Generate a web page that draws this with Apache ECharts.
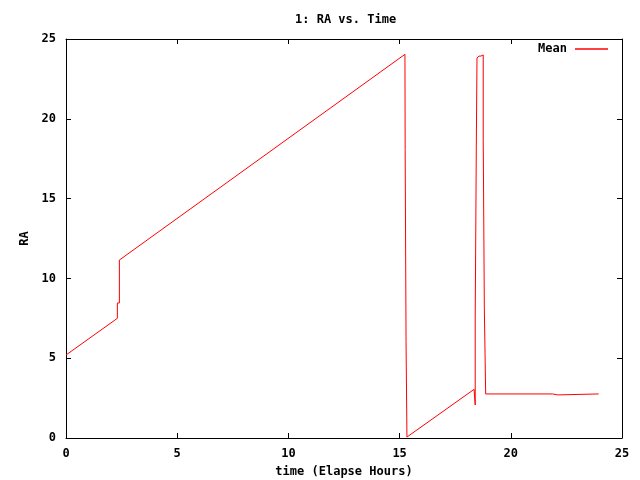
<!DOCTYPE html>
<html>
<head>
<meta charset="utf-8">
<script src="https://cdn.jsdelivr.net/npm/echarts@6/dist/echarts.min.js"></script>
<style>html,body{margin:0;padding:0;background:#fff}#c{width:640px;height:480px}</style>
</head>
<body>
<div id="c"></div>
<script>
var titleText = '1: RA vs. Time';
var xName = 'time (Elapse Hours)';
var yName = 'RA';
var seriesName = 'Mean';
var times = [0, 2.31, 2.31, 2.40, 2.40, 2.47, 15.24, 15.25, 15.29, 15.29, 15.33, 15.33,
  18.35, 18.37, 18.40, 18.40, 18.45, 18.45, 18.48, 18.48, 18.57, 18.66, 18.69, 18.76,
  18.76, 18.81, 18.81, 18.87, 18.87, 21.88, 21.88, 22.11, 22.11, 23.95];
var ra = [5.2, 7.5, 8.46, 8.46, 11.15, 11.2, 24.04, 18.09, 18.09, 6.03, 6.03, 0.06,
  3.05, 2.63, 2.07, 7.52, 7.52, 18.36, 18.36, 23.81, 23.93, 23.93, 24.0, 24.0,
  18.72, 18.72, 8.15, 8.15, 2.76, 2.76, 2.70, 2.70, 2.76, 2.76];
var xTicks = {min: 0, max: 25, interval: 5};
var yTicks = {min: 0, max: 25, interval: 5};

var font = 'DejaVu Sans Mono';
var pts = times.map(function (t, i) { return [t, ra[i]]; });
var axisCommon = {
  axisLine: {show: true, onZero: false, lineStyle: {color: '#000', width: 1}},
  axisTick: {show: true, inside: true, length: 5, lineStyle: {color: '#000'}},
  splitLine: {show: false}
};
var chart = echarts.init(document.getElementById('c'), null, {renderer: 'canvas'});
chart.setOption({
  animation: false,
  backgroundColor: '#fff',
  title: {
    text: titleText, left: 290, top: 9,
    textStyle: {fontFamily: font, fontWeight: 'bold', fontSize: 12, color: '#000'}
  },
  legend: {
    data: [seriesName], right: 27, top: 38, align: 'right',
    icon: 'rect', itemWidth: 33, itemHeight: 1.5,
    textStyle: {fontFamily: font, fontWeight: 'bold', fontSize: 12, color: '#000', padding: [0, 3, 0, 0]}
  },
  grid: {left: 66, right: 18, top: 39, bottom: 42, containLabel: false, outerBoundsMode: 'none'},
  xAxis: [
    Object.assign({
      type: 'value', position: 'bottom', min: xTicks.min, max: xTicks.max, interval: xTicks.interval,
      name: xName, nameLocation: 'middle', nameGap: 28,
      nameTextStyle: {fontFamily: font, fontWeight: 'bold', fontSize: 12, color: '#000'},
      axisLabel: {margin: 10, fontFamily: font, fontWeight: 'bold', fontSize: 12, color: '#000'}
    }, axisCommon),
    Object.assign({
      type: 'value', position: 'top', min: xTicks.min, max: xTicks.max, interval: xTicks.interval,
      axisLabel: {show: false}
    }, axisCommon)
  ],
  yAxis: [
    Object.assign({
      type: 'value', position: 'left', min: yTicks.min, max: yTicks.max, interval: yTicks.interval,
      name: yName, nameLocation: 'middle', nameGap: 34, nameRotate: 90,
      nameTextStyle: {fontFamily: font, fontWeight: 'bold', fontSize: 12, color: '#000'},
      axisLabel: {margin: 10, fontFamily: font, fontWeight: 'bold', fontSize: 12, color: '#000'}
    }, axisCommon),
    Object.assign({
      type: 'value', position: 'right', min: yTicks.min, max: yTicks.max, interval: yTicks.interval,
      axisLabel: {show: false}
    }, axisCommon)
  ],
  series: [{
    name: seriesName, type: 'line', data: pts, showSymbol: false, symbol: 'none',
    xAxisIndex: 0, yAxisIndex: 0,
    lineStyle: {color: '#ff0000', width: 1}, itemStyle: {color: '#ff0000'}
  }]
});
</script>
</body>
</html>
